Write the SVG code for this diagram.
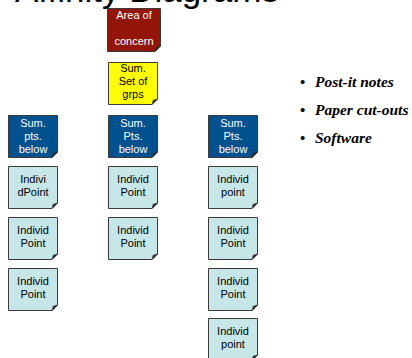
<svg xmlns="http://www.w3.org/2000/svg" xmlns:xlink="http://www.w3.org/1999/xlink" width="412" height="358" viewBox="0 0 412 358">
<style>
.box{stroke:#3a3a3a;stroke-width:1}
.red{fill:#921508}
.yel{fill:#ffff00}
.dkb{fill:#00518e}
.ltb{fill:#c6e6e8}
.fold{fill:#2a2a2a;stroke:#2a2a2a;stroke-width:0.6;stroke-linejoin:round}
.t{font-family:"Liberation Sans",Arial,sans-serif;font-size:11px;text-anchor:middle}
.w{fill:#ffffff}
.k{fill:#000000}
.title{font-family:"Liberation Sans",Arial,sans-serif;font-size:35px;fill:#000}
.bul{font-family:"Liberation Serif","Times New Roman",serif;font-size:15.5px;font-weight:bold;font-style:italic;fill:#000}
.dot{font-family:"Liberation Serif","Times New Roman",serif;font-size:15px;font-weight:bold;fill:#000}
</style>
<defs>
<path id="n49" d="M0.5 0.5 H49.5 V37 L44 42.5 H0.5 Z"/>
<path id="f49" d="M49.5 37 L44 42.5 L45.2 38.2 Z"/>
<path id="n53" d="M0.5 0.5 H53.5 V38 L48 43.5 H0.5 Z"/>
<path id="f53" d="M53.5 38 L48 43.5 L49.2 39.2 Z"/>
</defs>

<g id="title"><text class="title" x="15" y="2">Affinity Diagrams</text></g>

<g id="area" transform="translate(107,8)">
<use xlink:href="#n53" class="box red"/><use xlink:href="#f53" class="fold"/>
<text class="t w" x="27" y="11">Area of</text>
<text class="t w" x="27" y="37">concern</text>
</g>

<g id="sumset" transform="translate(108,62)">
<use xlink:href="#n49" class="box yel"/><use xlink:href="#f49" class="fold"/>
<text class="t k" x="25" y="10">Sum.</text>
<text class="t k" x="25" y="23">Set of</text>
<text class="t k" x="25" y="36">grps</text>
</g>

<g id="sum1" transform="translate(8,115)">
<use xlink:href="#n49" class="box dkb"/><use xlink:href="#f49" class="fold"/>
<text class="t w" x="25" y="12">Sum.</text>
<text class="t w" x="25" y="25">pts.</text>
<text class="t w" x="25" y="38">below</text>
</g>
<g id="sum2" transform="translate(108,115)">
<use xlink:href="#n49" class="box dkb"/><use xlink:href="#f49" class="fold"/>
<text class="t w" x="25" y="12">Sum.</text>
<text class="t w" x="25" y="25">Pts.</text>
<text class="t w" x="25" y="38">below</text>
</g>
<g id="sum3" transform="translate(208,115)">
<use xlink:href="#n49" class="box dkb"/><use xlink:href="#f49" class="fold"/>
<text class="t w" x="25" y="12">Sum.</text>
<text class="t w" x="25" y="25">Pts.</text>
<text class="t w" x="25" y="38">below</text>
</g>

<g id="p1a" transform="translate(8,166)">
<use xlink:href="#n49" class="box ltb"/><use xlink:href="#f49" class="fold"/>
<text class="t k" x="25" y="17">Indivi</text>
<text class="t k" x="25" y="30">dPoint</text>
</g>
<g id="p1b" transform="translate(8,217)">
<use xlink:href="#n49" class="box ltb"/><use xlink:href="#f49" class="fold"/>
<text class="t k" x="25" y="17">Individ</text>
<text class="t k" x="25" y="30">Point</text>
</g>
<g id="p1c" transform="translate(8,268)">
<use xlink:href="#n49" class="box ltb"/><use xlink:href="#f49" class="fold"/>
<text class="t k" x="25" y="17">Individ</text>
<text class="t k" x="25" y="30">Point</text>
</g>

<g id="p2a" transform="translate(108,166)">
<use xlink:href="#n49" class="box ltb"/><use xlink:href="#f49" class="fold"/>
<text class="t k" x="25" y="17">Individ</text>
<text class="t k" x="25" y="30">Point</text>
</g>
<g id="p2b" transform="translate(108,217)">
<use xlink:href="#n49" class="box ltb"/><use xlink:href="#f49" class="fold"/>
<text class="t k" x="25" y="17">Individ</text>
<text class="t k" x="25" y="30">Point</text>
</g>

<g id="p3a" transform="translate(208,166)">
<use xlink:href="#n49" class="box ltb"/><use xlink:href="#f49" class="fold"/>
<text class="t k" x="25" y="17">Individ</text>
<text class="t k" x="25" y="30">point</text>
</g>
<g id="p3b" transform="translate(208,217)">
<use xlink:href="#n49" class="box ltb"/><use xlink:href="#f49" class="fold"/>
<text class="t k" x="25" y="17">Individ</text>
<text class="t k" x="25" y="30">Point</text>
</g>
<g id="p3c" transform="translate(208,268)">
<use xlink:href="#n49" class="box ltb"/><use xlink:href="#f49" class="fold"/>
<text class="t k" x="25" y="17">Individ</text>
<text class="t k" x="25" y="30">Point</text>
</g>
<g id="p3d" transform="translate(208,318)">
<use xlink:href="#n49" class="box ltb"/><use xlink:href="#f49" class="fold"/>
<text class="t k" x="25" y="17">Individ</text>
<text class="t k" x="25" y="30">point</text>
</g>

<g id="bullets">
<text class="dot" x="300" y="87">•</text><text class="bul" x="315" y="87">Post-it notes</text>
<text class="dot" x="300" y="115">•</text><text class="bul" x="315" y="115">Paper cut-outs</text>
<text class="dot" x="300" y="143">•</text><text class="bul" x="315" y="143">Software</text>
</g>
</svg>
